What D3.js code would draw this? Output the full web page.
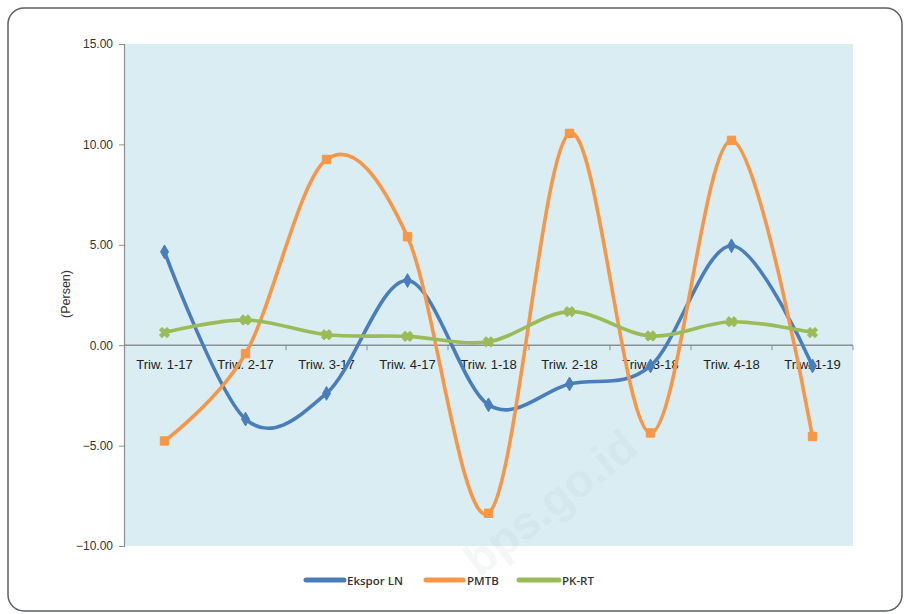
<!DOCTYPE html>
<html>
<head>
<meta charset="utf-8">
<script src="https://cdn.jsdelivr.net/npm/d3@7/dist/d3.min.js"></script>
<style>
  html, body { margin: 0; padding: 0; background: #ffffff; }
  svg { display: block; }
</style>
</head>
<body>
<div id="chart"></div>
<script>
// Quarterly growth (persen) of three expenditure components
const categories = ["Triw. 1-17", "Triw. 2-17", "Triw. 3-17", "Triw. 4-17", "Triw. 1-18",
                    "Triw. 2-18", "Triw. 3-18", "Triw. 4-18", "Triw. 1-19"];
const eksporLN = [4.65, -3.68, -2.4, 3.22, -2.97, -1.93, -1.03, 4.95, -1.03];
const pmtb     = [-4.77, -0.42, 9.25, 5.4, -8.37, 10.55, -4.37, 10.2, -4.55];
const pkrt     = [0.63, 1.26, 0.52, 0.44, 0.17, 1.67, 0.46, 1.17, 0.63];
const yTicks   = [-10, -5, 0, 5, 10, 15];

const seriesList = [
  { name: "Ekspor LN", values: eksporLN, color: "#4a7ebb", marker: "diamond" },
  { name: "PMTB",      values: pmtb,     color: "#f79646", marker: "square" },
  { name: "PK-RT",     values: pkrt,     color: "#9bbb59", marker: "star" }
];

const W = 905, H = 614;
const plot = { left: 124, right: 853, top: 44, bottom: 546 };

const svg = d3.select("#chart").append("svg")
  .attr("width", W).attr("height", H);

// outer rounded frame
svg.append("rect")
  .attr("x", 8).attr("y", 8).attr("width", 894).attr("height", 603)
  .attr("rx", 16).attr("ry", 16)
  .attr("fill", "#ffffff").attr("stroke", "#5a5f64").attr("stroke-width", 1.5);

// plot background
svg.append("rect")
  .attr("x", plot.left).attr("y", plot.top)
  .attr("width", plot.right - plot.left).attr("height", plot.bottom - plot.top)
  .attr("fill", "#d9edf3");

const x = d3.scaleBand().domain(categories).range([plot.left, plot.right]).padding(0);
const y = d3.scaleLinear().domain([-10, 15]).range([plot.bottom, plot.top]);
const cx = c => x(c) + x.bandwidth() / 2;

// y axis
const yAxis = svg.append("g")
  .attr("transform", `translate(${plot.left},0)`)
  .call(d3.axisLeft(y).tickValues(yTicks).tickFormat(d3.format(".2f")).tickSize(5).tickPadding(6));
yAxis.select(".domain").attr("stroke", "#8a8f94").attr("stroke-width", 1.2);
yAxis.selectAll(".tick line").attr("stroke", "#8a8f94");
yAxis.selectAll(".tick text")
  .attr("fill", "#333").style("font-family", "'Liberation Sans', Arial, sans-serif")
  .style("font-size", "12px");

// x axis on the zero line, ticks at category boundaries
const xAxisG = svg.append("g").attr("transform", `translate(0,${y(0)})`);
xAxisG.append("line")
  .attr("x1", plot.left).attr("x2", plot.right)
  .attr("stroke", "#8a8f94").attr("stroke-width", 1.4);
xAxisG.selectAll(".bt")
  .data(categories.slice(1).concat(["__end"]))
  .join("line")
  .attr("x1", (d, i) => plot.left + x.bandwidth() * (i + 1))
  .attr("x2", (d, i) => plot.left + x.bandwidth() * (i + 1))
  .attr("y1", 0).attr("y2", 5)
  .attr("stroke", "#8a8f94");
xAxisG.selectAll(".cat")
  .data(categories)
  .join("text")
  .attr("x", d => cx(d)).attr("y", 24)
  .attr("text-anchor", "middle")
  .attr("fill", "#222")
  .style("font-family", "'Liberation Sans', Arial, sans-serif")
  .style("font-size", "13px")
  .text(d => d);

// y axis title
svg.append("text")
  .attr("transform", `translate(70,294) rotate(-90)`)
  .attr("text-anchor", "middle")
  .attr("fill", "#333")
  .style("font-family", "'Liberation Sans', Arial, sans-serif")
  .style("font-size", "12.5px")
  .text("(Persen)");

// smoothed series lines
const line = d3.line()
  .x((d, i) => cx(categories[i]))
  .y(d => y(d))
  .curve(d3.curveCatmullRom.alpha(0));

const markerPath = {
  diamond: d3.symbol().type(d3.symbolDiamond).size(55)(),
  square: d3.symbol().type(d3.symbolSquare).size(70)(),
  star: d3.symbol().type(d3.symbolCross).size(60)()
};

seriesList.forEach(s => {
  const g = svg.append("g");
  g.append("path")
    .datum(s.values)
    .attr("d", line)
    .attr("fill", "none")
    .attr("stroke", s.color)
    .attr("stroke-width", 3.6)
    .attr("stroke-linejoin", "round")
    .attr("stroke-linecap", "round");
  g.selectAll("path.mk")
    .data(s.values)
    .join("path")
    .attr("class", "mk")
    .attr("d", markerPath[s.marker])
    .attr("transform", (d, i) => `translate(${cx(categories[i])},${y(d)})` + (s.marker === "star" ? " rotate(45)" : ""))
    .attr("fill", s.color)
    .attr("stroke", s.color)
    .attr("stroke-width", 1);
});

// legend
const legendItems = [
  { name: "Ekspor LN", color: "#4a7ebb", x0: 306, x1: 344, tx: 347 },
  { name: "PMTB",      color: "#f79646", x0: 426, x1: 463, tx: 467 },
  { name: "PK-RT",     color: "#9bbb59", x0: 519, x1: 559, tx: 562 }
];
const lg = svg.append("g");
legendItems.forEach(it => {
  lg.append("line")
    .attr("x1", it.x0).attr("x2", it.x1).attr("y1", 580).attr("y2", 580)
    .attr("stroke", it.color).attr("stroke-width", 5).attr("stroke-linecap", "round");
  lg.append("text")
    .attr("x", it.tx).attr("y", 584.5)
    .attr("fill", "#333")
    .style("font-family", "'Open Sans', 'Liberation Sans', sans-serif")
    .style("font-size", "11.5px")
    .style("font-weight", "600")
    .text(it.name);
});

// faint watermark
svg.append("text")
  .attr("transform", "translate(560,515) rotate(-38)")
  .attr("text-anchor", "middle")
  .attr("fill", "#c4ccd2")
  .attr("fill-opacity", 0.18)
  .style("font-family", "'Liberation Sans', Arial, sans-serif")
  .style("font-size", "46px")
  .style("font-weight", "bold")
  .text("bps.go.id");
</script>
</body>
</html>
